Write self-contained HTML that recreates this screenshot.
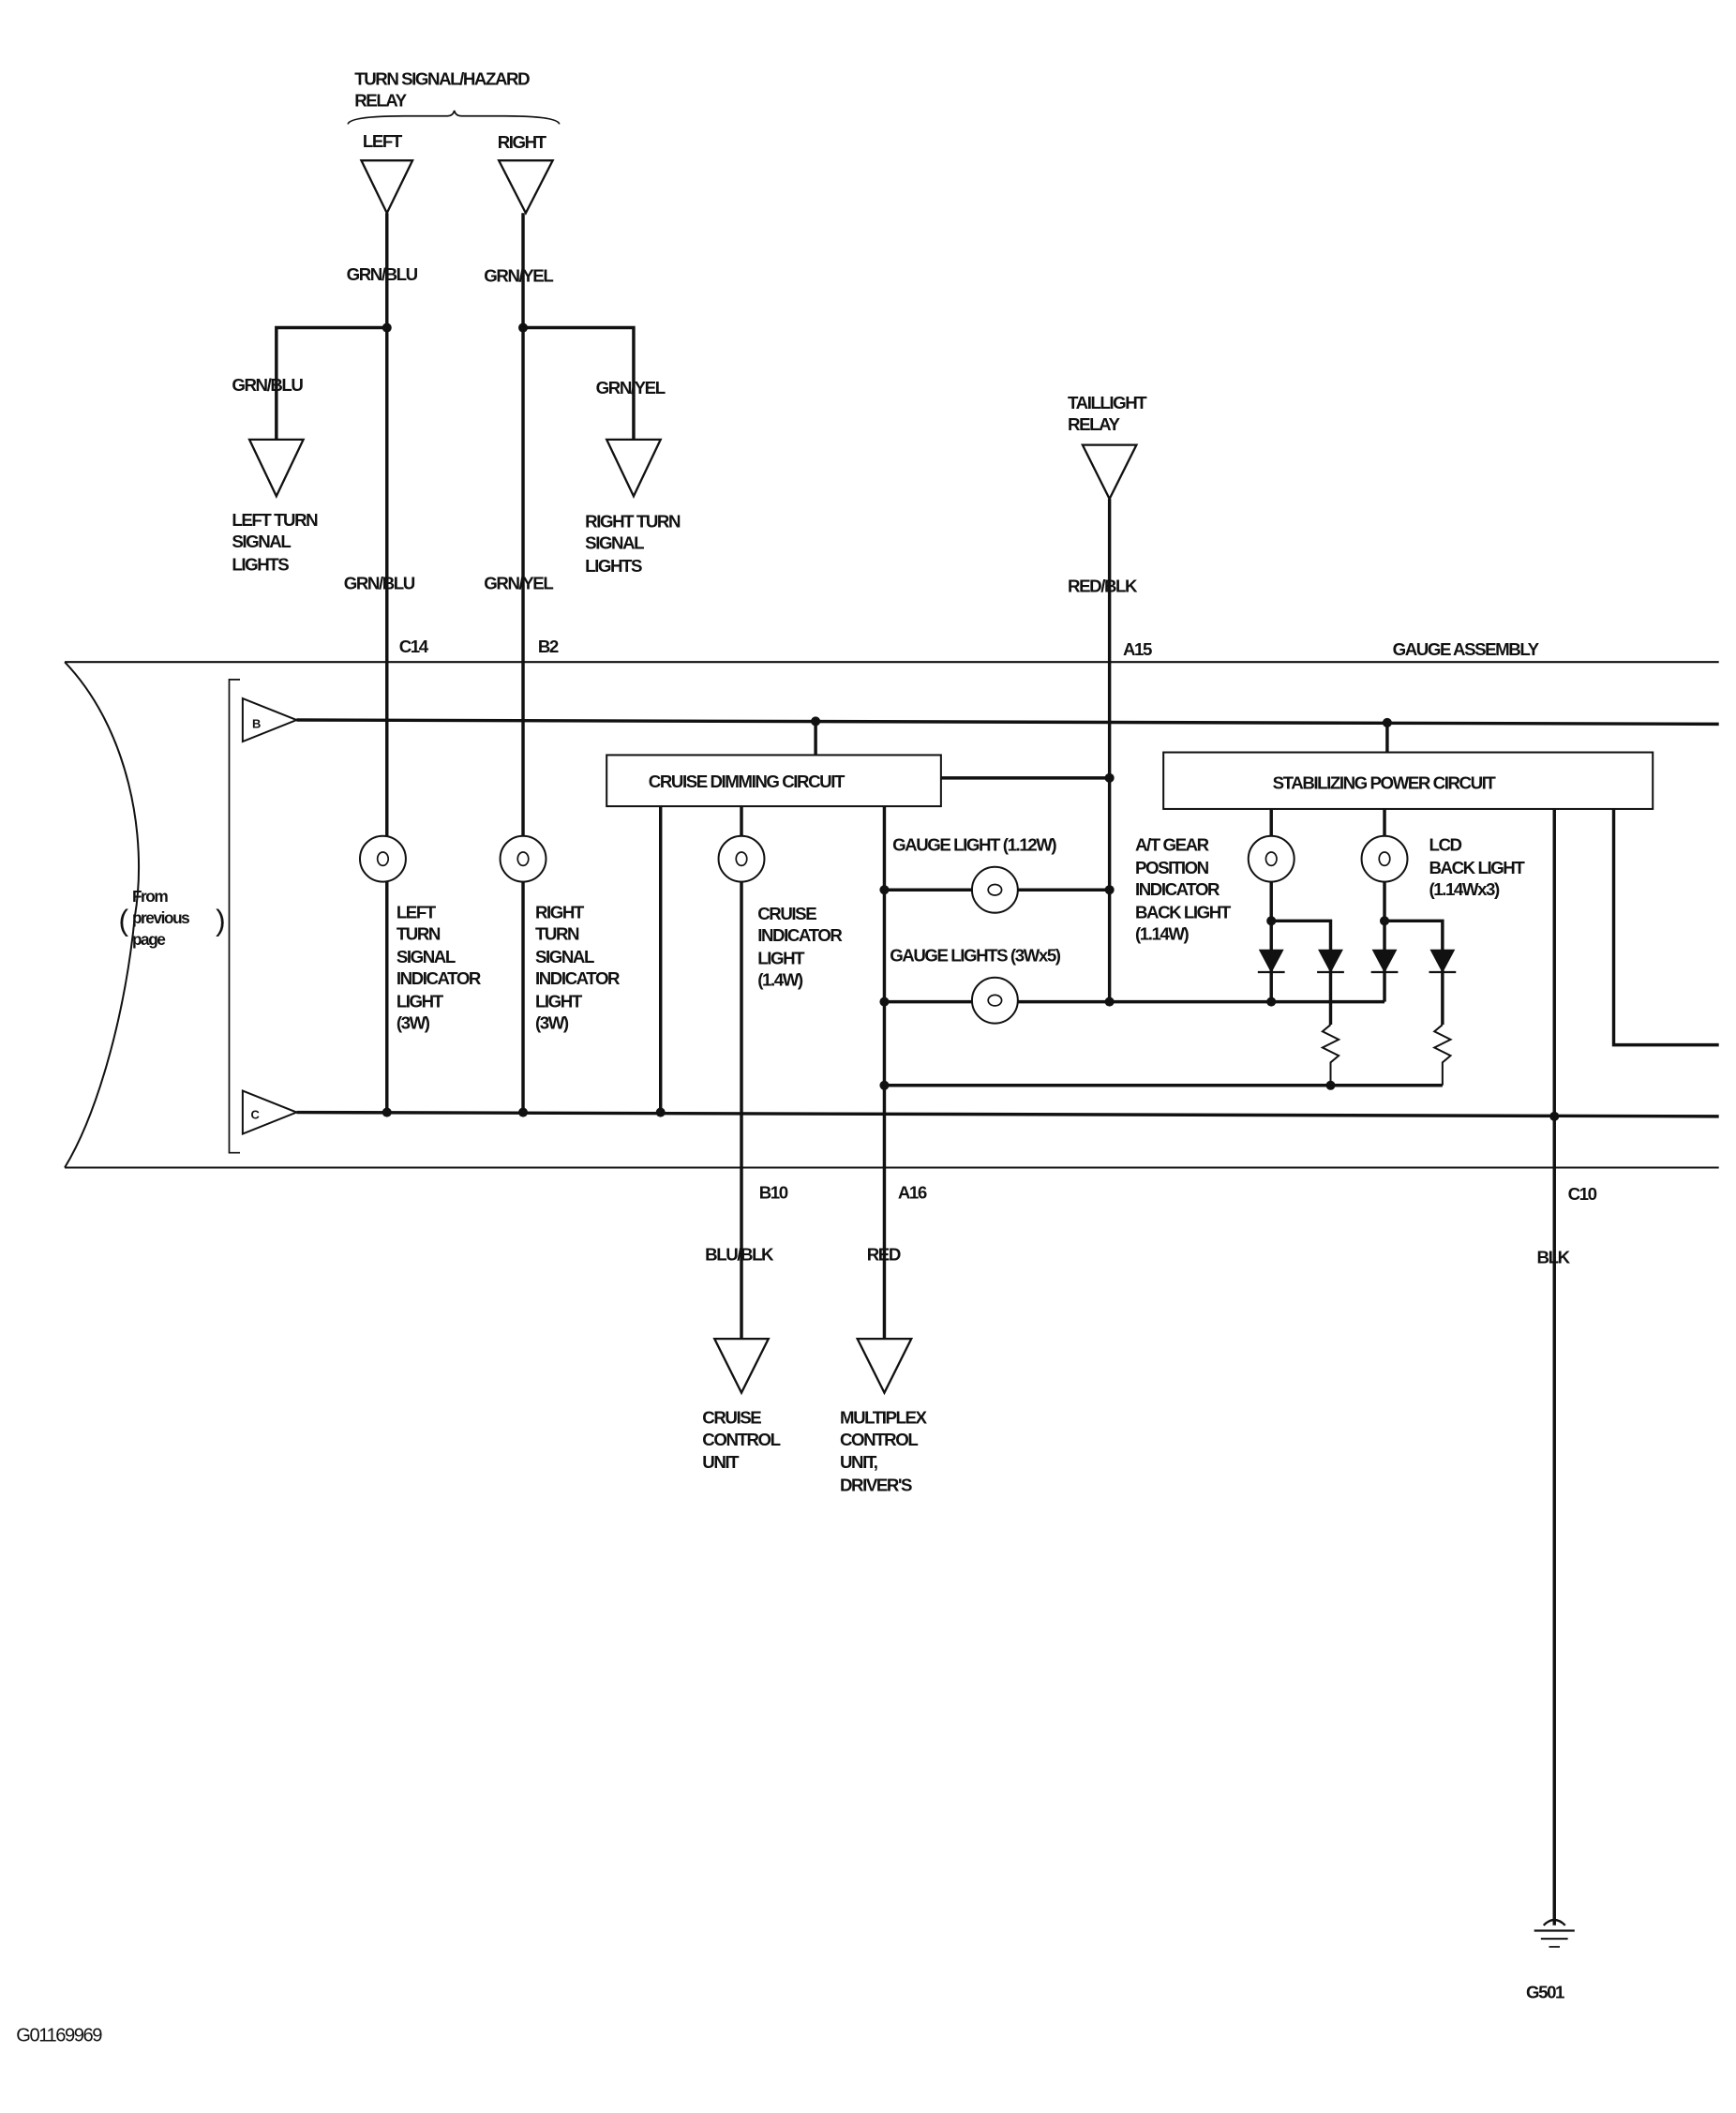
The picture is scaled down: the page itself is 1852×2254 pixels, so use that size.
<!DOCTYPE html>
<html><head><meta charset="utf-8"><style>
html,body{margin:0;padding:0;background:#fff}
svg{display:block}
text{font-family:"Liberation Sans",sans-serif;font-size:13px;font-weight:bold;fill:#111;letter-spacing:-1px}
</style></head><body>
<svg width="1852" height="2254" viewBox="0 0 1280 1557.8" xmlns="http://www.w3.org/2000/svg">
<g transform="scale(0.994)">
<g stroke="#111" stroke-width="2.4" fill="none">
<path d="M258,92 Q260,86 300,86 L332,86 Q336,86 337,82 Q338,86 342,86 L374,86 Q413,86 415,92" stroke-width="1.2"/>
<path d="M268,119 L306,119 L287,158 Z" stroke-width="1.6"/>
<path d="M370,119 L410,119 L390,158 Z" stroke-width="1.6"/>
<line x1="287" y1="158" x2="287" y2="825"/>
<line x1="388" y1="158" x2="388" y2="825"/>
<polyline points="287,243 205,243 205,326"/>
<path d="M185,326 L225,326 L205,368 Z" stroke-width="1.6"/>
<polyline points="388,243 470,243 470,326"/>
<path d="M450,326 L490,326 L470,368 Z" stroke-width="1.6"/>
<path d="M803,330 L843,330 L823,370 Z" stroke-width="1.6"/>
<line x1="823" y1="370" x2="823" y2="745"/>
<path d="M48,491 L1275,491 M48,866 L1275,866" stroke-width="1.4"/>
<path d="M48,491 C95,540 110,620 100,680 C92,760 70,830 48,866" stroke-width="1.4"/>
<polyline points="178,504 170,504 170,855 178,855" stroke-width="1.2"/>
<path d="M180,518 L220,534 L180,550 Z" stroke-width="1.4"/>
<line x1="220" y1="534" x2="1275" y2="537"/>
<path d="M180,809 L220,825 L180,841 Z" stroke-width="1.4"/>
<line x1="220" y1="825" x2="1275" y2="828"/>
<rect x="450" y="560" width="248" height="38" stroke-width="1.4"/>
<rect x="863" y="558" width="363" height="42" stroke-width="1.4"/>
<line x1="605" y1="535" x2="605" y2="560"/>
<line x1="1029" y1="536" x2="1029" y2="558"/>
<line x1="698" y1="577" x2="823" y2="577"/>
<line x1="490" y1="598" x2="490" y2="825"/>
<line x1="550" y1="598" x2="550" y2="993"/>
<path d="M530,993 L570,993 L550,1033 Z" stroke-width="1.6"/>
<line x1="656" y1="598" x2="656" y2="993"/>
<path d="M636,993 L676,993 L656,1033 Z" stroke-width="1.6"/>
<line x1="656" y1="660" x2="823" y2="660"/>
<line x1="656" y1="743" x2="1027" y2="743"/>
<line x1="656" y1="805" x2="1070" y2="805"/>
<line x1="943" y1="600" x2="943" y2="743"/>
<polyline points="943,683 987,683 987,760"/>
<line x1="1027" y1="600" x2="1027" y2="743"/>
<polyline points="1027,683 1070,683 1070,760"/>
<polyline points="987,760 981,765 993,771 981,777 993,783 987,788 987,805" stroke-width="1.4"/>
<polyline points="1070,760 1064,765 1076,771 1064,777 1076,783 1070,788 1070,805" stroke-width="1.4"/>
<line x1="1153" y1="600" x2="1153" y2="1428"/>
<polyline points="1197,600 1197,775 1275,775"/>
<path d="M1145,1428 Q1153,1420 1161,1428" stroke-width="1.6"/>
<line x1="1138" y1="1432" x2="1168" y2="1432" stroke-width="1.6"/>
<line x1="1143" y1="1438" x2="1163" y2="1438" stroke-width="1.4"/>
<line x1="1149" y1="1444" x2="1157" y2="1444" stroke-width="1.2"/>
</g>
<g fill="#111" stroke="#111" stroke-width="1.6">
<path d="M935,705 L951,705 L943,720 Z"/><line x1="933" y1="721" x2="953" y2="721"/>
<path d="M979,705 L995,705 L987,720 Z"/><line x1="977" y1="721" x2="997" y2="721"/>
<path d="M1019,705 L1035,705 L1027,720 Z"/><line x1="1017" y1="721" x2="1037" y2="721"/>
<path d="M1062,705 L1078,705 L1070,720 Z"/><line x1="1060" y1="721" x2="1080" y2="721"/>
</g>
<g stroke="#111" stroke-width="1.4" fill="#fff">
<circle cx="284" cy="637" r="17"/><circle cx="388" cy="637" r="17"/>
<circle cx="550" cy="637" r="17"/><circle cx="738" cy="660" r="17"/>
<circle cx="738" cy="742" r="17"/><circle cx="943" cy="637" r="17"/>
<circle cx="1027" cy="637" r="17"/>
</g>
<g stroke="#111" stroke-width="1.2" fill="none">
<ellipse cx="284" cy="637" rx="4" ry="5"/><ellipse cx="388" cy="637" rx="4" ry="5"/>
<ellipse cx="550" cy="637" rx="4" ry="5"/><ellipse cx="738" cy="660" rx="5" ry="4"/>
<ellipse cx="738" cy="742" rx="5" ry="4"/><ellipse cx="943" cy="637" rx="4" ry="5"/>
<ellipse cx="1027" cy="637" rx="4" ry="5"/>
</g>
<g fill="#111">
<circle cx="287" cy="243" r="3.5"/><circle cx="388" cy="243" r="3.5"/>
<circle cx="605" cy="535" r="3.5"/><circle cx="1029" cy="536" r="3.5"/>
<circle cx="823" cy="577" r="3.5"/><circle cx="823" cy="660" r="3.5"/><circle cx="823" cy="743" r="3.5"/>
<circle cx="656" cy="660" r="3.5"/><circle cx="656" cy="743" r="3.5"/><circle cx="656" cy="805" r="3.5"/>
<circle cx="943" cy="683" r="3.5"/><circle cx="1027" cy="683" r="3.5"/>
<circle cx="943" cy="743" r="3.5"/><circle cx="987" cy="805" r="3.5"/>
<circle cx="287" cy="825" r="3.5"/><circle cx="388" cy="825" r="3.5"/><circle cx="490" cy="825" r="3.5"/>
<circle cx="1153" cy="828" r="3.5"/>
</g>
<text x="263" y="63">TURN SIGNAL/HAZARD</text><text x="263" y="79">RELAY</text>
<text x="269" y="109">LEFT</text><text x="369" y="110">RIGHT</text>
<text x="257" y="208">GRN/BLU</text><text x="359" y="209">GRN/YEL</text>
<text x="172" y="290">GRN/BLU</text><text x="442" y="292">GRN/YEL</text>
<text x="172" y="390">LEFT TURN</text><text x="172" y="406">SIGNAL</text><text x="172" y="423">LIGHTS</text>
<text x="434" y="391">RIGHT TURN</text><text x="434" y="407">SIGNAL</text><text x="434" y="424">LIGHTS</text>
<text x="792" y="303">TAILLIGHT</text><text x="792" y="319">RELAY</text>
<text x="255" y="437">GRN/BLU</text><text x="359" y="437">GRN/YEL</text><text x="792" y="439">RED/BLK</text>
<text x="296" y="484">C14</text><text x="399" y="484">B2</text><text x="833" y="486">A15</text>
<text x="1033" y="486">GAUGE ASSEMBLY</text>
<text x="187" y="540" style="font-size:9px">B</text><text x="186" y="830" style="font-size:9px">C</text>
<text x="481" y="584">CRUISE DIMMING CIRCUIT</text>
<text x="944" y="585">STABILIZING POWER CIRCUIT</text>
<text x="662" y="631">GAUGE LIGHT (1.12W)</text>
<text x="660" y="713">GAUGE LIGHTS (3Wx5)</text>
<text x="842" y="631">A/T GEAR</text><text x="842" y="648">POSITION</text><text x="842" y="664">INDICATOR</text><text x="842" y="681">BACK LIGHT</text><text x="842" y="697">(1.14W)</text>
<text x="1060" y="631">LCD</text><text x="1060" y="648">BACK LIGHT</text><text x="1060" y="664">(1.14Wx3)</text>
<text x="294" y="681">LEFT</text><text x="294" y="697">TURN</text><text x="294" y="714">SIGNAL</text><text x="294" y="730">INDICATOR</text><text x="294" y="747">LIGHT</text><text x="294" y="763">(3W)</text>
<text x="397" y="681">RIGHT</text><text x="397" y="697">TURN</text><text x="397" y="714">SIGNAL</text><text x="397" y="730">INDICATOR</text><text x="397" y="747">LIGHT</text><text x="397" y="763">(3W)</text>
<text x="562" y="682">CRUISE</text><text x="562" y="698">INDICATOR</text><text x="562" y="715">LIGHT</text><text x="562" y="731">(1.4W)</text>
<text x="98" y="669" style="font-size:12px">From</text><text x="98" y="685" style="font-size:12px">previous</text><text x="98" y="701" style="font-size:12px">page</text>
<text x="88" y="690" style="font-size:22px;font-weight:normal">(</text><text x="160" y="690" style="font-size:22px;font-weight:normal">)</text>
<text x="563" y="889">B10</text><text x="666" y="889">A16</text><text x="1163" y="890">C10</text>
<text x="523" y="935">BLU/BLK</text><text x="643" y="935">RED</text><text x="1140" y="937">BLK</text>
<text x="521" y="1056">CRUISE</text><text x="521" y="1072">CONTROL</text><text x="521" y="1089">UNIT</text>
<text x="623" y="1056">MULTIPLEX</text><text x="623" y="1072">CONTROL</text><text x="623" y="1089">UNIT,</text><text x="623" y="1106">DRIVER'S</text>
<text x="1132" y="1482">G501</text>
<text x="12" y="1514" style="font-size:14px;font-weight:normal">G01169969</text>
</g>
</svg>
</body></html>
